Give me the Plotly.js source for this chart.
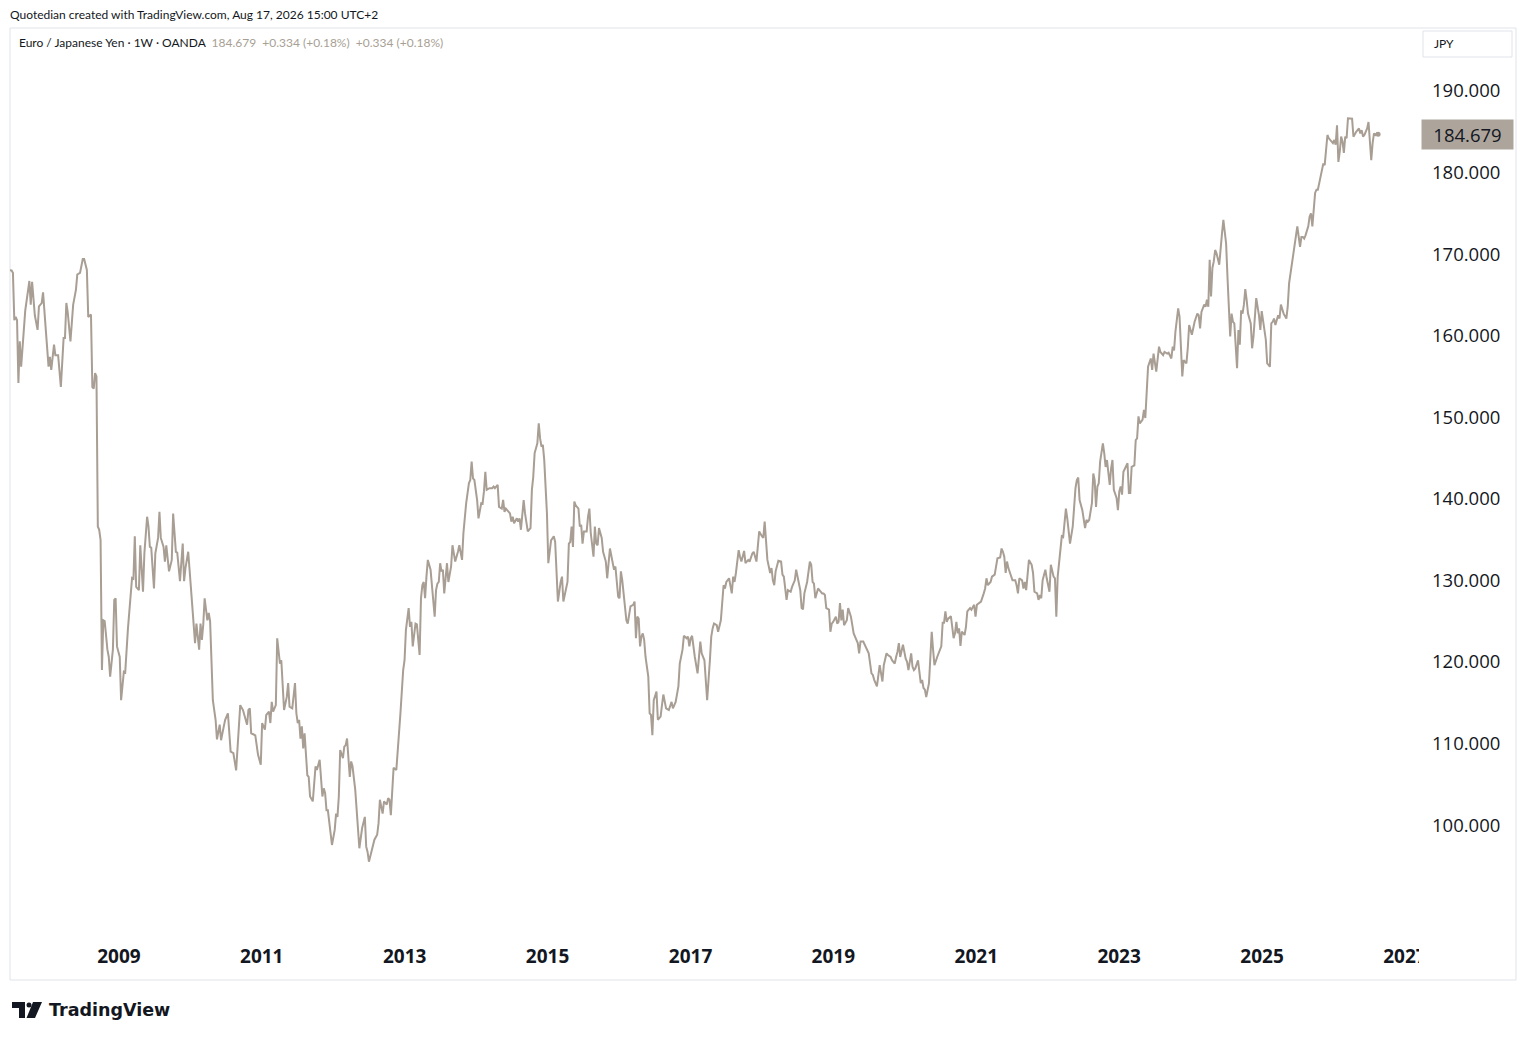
<!DOCTYPE html>
<html>
<head>
<meta charset="utf-8">
<script src="https://cdn.plot.ly/plotly-3.0.1.min.js"></script>
<style>
html,body{margin:0;padding:0;background:#ffffff;}
#chart{width:1526px;height:1040px;}
</style>
</head>
<body>
<div id="chart"></div>
<script>
// ---------------- DATA ----------------
// EUR/JPY weekly closes (OANDA).
// weekIndex = number of weeks after the first weekly bar (week of 2007-06-18).
const firstBarUTC = Date.UTC(2007, 5, 18);

const weekIndex = [
  0,2,3,4,5,6,7,8,9,12, 15,16,17,19,21,22,24,25,27,29,
  30,31,33,34,36,38,40,41,42,43, 45,47,49,50,52,54,55,57,58,60,
  61,62,63,64,65,66,67,68,69,70, 72,73,74,76,77,78,79,81,82,84,
  85,87,90,91,92,93,95,96,98,99, 101,102,103,104,106,107,109,110,111,113,
  114,115,117,119,120,122,123,125,127,128, 129,131,132,134,136,137,139,140,141,142,
  143,145,146,147,149,151,152,
  154,155,157,158,160,162,164,166,169,171, 174,175,176,177,180,182,184,185,187,188,
  190,191,192,193,195,196,198,199,201,203, 204,205,207,209,210,211,212,213,214,215,
  216,218,219,220,222,224,225,227,229,230, 231,232,233,235,236,238,239,240,241,242,
  244,245,246,247,249,250,251,253,255,256, 258,260,261,262,263,265,266,267,269,270,
  271,273,274,276,277,278,279,281,283,285, 286,288,289,290,292,293,294,295,297,298,
  299,300,301,302,303,304,305,306,308,309, 311,312,313,314,315,316,317,318,320,321,
  323,324,326,328,329,331,332,334,336,337, 338,339,340,342,343,345,346,347,348,349,
  351,353,354,355,357,358,360,361,362,363, 364,366,367,368,369,371,372,373,374,376,
  377,379,381,382,383,384,386,387,388,389, 390,391,393,394,396,398,399,400,401,403,
  404,405,407,408,409,410,411,412,413,414, 416,417,418,419,420,422,423,424,425,427,
  428,429,430,431,433,434,436,437,439,440, 442,443,444,445,446,447,448,450,451,452,
  453,454,456,457,458,459,460,461,462,463, 464,465,467,468,469,470,471,473,474,476,
  477,478,480,482,484,485,487,489,490,492,
  493,495,496,497,498,499,501,502,503,505, 506,508,509,510,512,513,514,515,517,518,
  520,521,522,523,524,526,528,529,530,531, 533,534,535,537,538,540,541,543,544,546,
  547,548,550,551,552,553,554,556,557,558, 559,560,562,564,565,566,568,569,571,572,
  574,575,577,578,579,580,581,583,585,586, 587,588,589,591,592,594,595,596,597,599,
  600,601,602,604,605,606,607,608,609,610, 612,613,615,616,617,619,620,621,622,624,
  625,627,628,630,631,632,634,636,637,638, 639,641,642,644,645,647,648,649,650,651,
  653,654,655,656,657,659,660,661,662,664, 665,666,667,668,669,670,672,673,674,675,
  676,678,679,681,682,683,684,685,686,688,
  690,691,692,693,694,695,696,698,699,700, 702,703,705,706,707,709,710,712,713,714,
  715,717,718,720,721,722,724,725,726,727, 728,729,730,732,733,735,736,737,738,740,
  741,742,743,745,747,748,749,751,752,753, 754,755,757,758,759,760,761,763,764,765,
  766,768,769,770,771,772,773,774,775,777, 778,779,780,781,782,783,784,786,787,788,
  789,791,792,793,794,795,796,797,799,800, 801,802,804,805,806,807,808,809,810,811,
  812,813,814,816,817,818,819,820,822,823, 824,825,826,828,829,830,831,832,834,835,
  836,838,840,841,843,844,846,847,849,850, 851,852,854,855,856,857,858,860,861,862,
  864,865,866,868,869,870,871,873,874,875, 876,877,878,879,880,881,882,884,885,886,
  887,888,889,890,891,892,893,894,895,896, 897,898,899,900,901,902,903,904,905,907,
  908,909,910,911,913,914,915,916,918,919, 920,921,922,923,924,925,927,928,929,930,
  931,933,934,935,937,939,940,941,943,944, 945,946,947,949,950,951,952,953,954,955,
  956,958,959,960,961,962,963,964,966,967, 968,969,970,971,972,973,974,975,976,977,
  978,980,981,982,983,984,986,987,988,989, 990,992,993,994,995,996,997,998,999,1000
];

const weeklyClose = [
  168.05,168.0,167.7,161.9,162.3,161.9,154.2,159.3,156.2,163.1, 166.7,163.8,166.6,162.5,160.7,163.6,164.0,165.3,160.7,156.2,
  157.4,155.8,158.9,157.6,157.6,153.7,159.7,159.7,164.0,162.9, 159.3,163.8,165.6,167.5,167.7,169.4,169.4,168.05,162.3,162.6,
  153.7,153.5,155.4,155.0,136.6,136.2,134.95,119.0,125.1,125.0, 121.5,120.6,118.2,121.5,127.6,127.8,121.9,120.6,115.3,118.8,
  118.7,124.1,130.3,130.2,135.4,129.2,128.8,134.3,128.6,133.3, 137.8,136.6,134.1,134.0,129.0,133.3,135.2,138.4,135.2,134.1,
  132.3,134.3,131.1,132.5,138.2,133.5,133.4,129.9,134.5,129.9, 131.5,133.5,131.3,126.4,122.3,124.7,121.5,124.7,122.7,124.6,
  127.8,125.1,126.0,125.0,115.3,112.9,110.5,
  112.3,110.4,112.1,112.9,113.7,109.0,108.8,106.7,114.7,114.1, 112.3,114.1,114.3,111.25,111.0,108.6,107.4,112.5,111.7,113.5,
  113.9,112.5,115.1,113.9,114.7,122.9,119.8,120.2,114.1,115.7, 117.4,114.5,114.3,117.4,113.7,112.5,112.9,110.6,112.1,109.4,
  111.25,106.1,105.9,103.5,102.9,107.2,106.75,108.0,103.5,104.5, 103.9,101.8,101.8,99.4,97.55,99.4,101.4,101.0,103.5,109.2,
  108.2,109.6,109.8,110.6,105.9,107.8,107.2,104.3,100.2,97.15, 99.6,101.0,97.35,96.7,95.5,96.7,97.35,98.2,98.8,100.2,
  103.1,101.4,102.9,102.5,103.3,103.1,101.2,107.0,106.75,110.8, 113.7,119.0,120.2,123.9,126.6,124.3,124.9,121.9,124.7,124.6,
  122.3,120.85,127.8,129.4,129.8,127.8,130.45,132.5,131.3,129.4, 125.55,128.8,129.6,129.8,132.1,131.1,131.3,128.4,132.1,129.8,
  131.7,134.3,132.3,133.5,134.3,132.5,135.8,139.45,141.9,142.3, 144.55,142.5,142.3,139.85,137.6,139.45,139.4,140.9,143.3,141.1,
  141.3,141.3,141.5,141.3,141.7,139.0,138.8,139.85,138.4,138.8, 138.6,138.2,137.2,137.8,137.0,137.6,137.2,137.6,136.2,139.85,
  138.2,136.0,136.4,141.1,142.7,145.6,146.8,149.25,147.4,146.4, 146.6,144.8,138.2,132.1,134.9,135.4,134.7,130.9,127.4,129.8,
  130.45,127.4,129.2,129.8,134.5,134.7,136.6,134.1,139.65,139.2, 138.8,136.6,136.8,134.5,136.0,136.0,137.8,138.8,135.8,132.9,
  136.6,134.5,134.3,136.4,135.2,133.5,132.3,130.25,133.9,132.9, 131.3,131.7,130.0,128.0,127.8,131.1,130.0,126.4,125.1,124.7,
  126.0,126.8,127.0,127.4,122.9,125.55,125.3,121.9,123.1,123.5, 122.7,120.6,118.2,113.7,113.5,111.0,115.3,116.35,112.9,113.3,
  114.7,116.0,114.3,114.1,115.1,114.3,115.1,117.0,119.8,121.5,
  123.2,122.9,123.1,121.9,122.9,123.2,120.6,119.8,118.6,122.5, 121.05,120.2,117.8,115.3,120.2,123.1,124.1,124.7,124.5,123.7,
  125.1,127.2,129.4,129.0,129.8,130.25,128.4,130.45,129.8,130.9, 133.7,132.9,132.3,133.6,132.1,132.5,132.3,133.3,133.5,132.3,
  134.7,136.0,135.4,135.2,137.2,134.1,132.5,130.9,131.5,130.0, 129.4,131.1,132.4,132.3,130.7,130.45,127.6,128.8,128.6,129.2,
  130.0,131.3,129.6,128.8,126.6,126.45,128.4,129.8,132.3,131.9, 129.8,129.6,127.8,129.0,128.8,128.4,128.4,128.2,126.6,126.4,
  123.7,124.7,124.9,125.55,124.7,124.9,127.2,125.1,126.4,124.5, 125.1,126.6,125.55,124.5,123.5,122.7,122.3,121.05,122.5,122.5,
  122.1,121.5,121.05,118.6,118.4,117.8,117.0,119.6,118.6,117.6, 119.6,121.05,120.85,120.6,120.2,119.8,120.6,121.25,122.3,120.6,
  122.1,121.05,120.4,120.0,119.0,121.05,119.4,119.0,119.2,120.2, 118.6,117.4,117.8,116.8,116.6,115.7,117.4,121.05,123.7,121.5,
  119.6,120.6,121.05,121.9,124.8,124.8,126.2,124.9,125.3,125.6,
  122.9,123.5,124.9,123.5,124.1,121.95,123.7,123.3,124.3,126.2, 126.6,126.4,127.0,125.55,127.0,127.2,127.4,128.4,129.0,130.25,
  129.4,129.8,130.45,130.7,131.7,132.7,132.8,133.9,133.5,132.9, 130.9,132.3,131.5,130.45,130.0,130.0,129.4,128.4,130.25,130.0,
  129.0,129.8,128.8,132.5,131.9,130.9,128.6,128.4,127.6,128.2, 127.8,130.0,131.3,130.25,129.2,128.6,131.9,130.45,130.25,125.55,
  130.45,133.7,135.4,135.3,137.6,138.8,137.6,136.0,134.5,136.6, 139.45,141.3,142.3,142.6,139.85,139.2,138.6,136.4,137.4,137.2,
  137.4,139.45,143.1,142.3,139.0,141.5,141.9,144.55,146.8,145.6, 143.9,144.75,141.7,143.7,144.75,141.1,140.5,140.1,138.6,140.9,
  141.5,140.5,143.3,143.9,144.35,140.7,140.7,143.9,144.1,147.2, 147.4,150.1,149.25,149.7,150.9,149.9,153.75,156.2,157.2,155.8,
  157.8,155.6,158.65,158.0,157.6,158.0,157.8,157.9,157.2,158.65, 158.2,160.5,163.35,162.3,158.65,155.0,157.0,156.6,158.45,161.3,
  160.1,161.1,161.7,162.7,162.5,160.9,162.9,163.8,163.55,164.4, 163.55,169.3,164.8,168.3,169.1,170.5,170.1,168.7,171.1,172.55,
  174.2,172.55,171.3,167.2,163.1,159.9,162.7,161.7,161.5,157.8, 156.0,160.7,158.9,163.1,162.7,163.8,165.7,164.4,162.7,161.5,
  158.45,159.9,162.1,164.6,162.5,160.7,163.0,161.9,159.5,156.6, 156.4,156.2,161.5,161.7,162.1,161.3,162.5,162.1,163.8,163.35,
  162.7,162.1,163.55,166.4,168.9,171.3,172.75,173.4,170.9,172.1, 172.1,171.9,172.3,173.4,174.6,175.0,173.4,175.4,177.5,177.9,
  177.9,179.5,180.3,181.1,180.9,183.2,184.6,184.2,183.8,183.6, 184.0,183.4,185.8,181.3,182.55,184.4,183.8,182.4,184.4,184.2,
  186.65,186.65,186.6,184.4,184.8,185.0,185.4,184.8,185.2,184.4, 184.6,185.4,186.2,184.0,181.5,183.6,184.8,184.6,184.8,184.679
];

const yTickValues = [100,110,120,130,140,150,160,170,180,190];
const xTickYears  = ['2009','2011','2013','2015','2017','2019','2021','2023','2025','2027'];
const lastPrice = 184.679;
const changeText = '+0.334 (+0.18%)';

// --------------- GEOMETRY HELPERS (layout only) ---------------
const W = 1526, H = 1040, ML = 10, MR = 108, MT = 28, MB = 103;
const PW = W - ML - MR, PH = H - MT - MB;
const px = x => (x - ML) / PW;
const py = y => (H - MB - y) / PH;

function weekToDate(w) {
  return new Date(firstBarUTC + w * 7 * 86400000).toISOString().slice(0, 10);
}

const dates = weekIndex.map(weekToDate);
const lineColor = '#a89e94';
const dark = '#131722';
const smallFont = 'Lato, "Open Sans", sans-serif';
const numFont = '"Open Sans", sans-serif';

const traces = [
  {
    type: 'scatter', mode: 'lines',
    x: dates, y: weeklyClose,
    line: {color: lineColor, width: 2},
    hoverinfo: 'skip', showlegend: false
  },
  {
    type: 'scatter', mode: 'markers',
    x: [dates[dates.length - 1]], y: [weeklyClose[weeklyClose.length - 1]],
    marker: {color: lineColor, size: 5},
    hoverinfo: 'skip', showlegend: false
  }
];

const layout = {
  width: W, height: H,
  margin: {l: ML, r: MR, t: MT, b: MB, pad: 0},
  paper_bgcolor: '#ffffff', plot_bgcolor: '#ffffff',
  showlegend: false,
  xaxis: {
    type: 'date',
    range: ['2007-06-24', '2027-03-09'],
    tickvals: xTickYears.map(y => y + '-01-01'),
    ticktext: xTickYears,
    ticks: '', showgrid: false, zeroline: false, showline: false,
    ticklabelstandoff: 6,
    tickfont: {family: numFont, size: 19, color: dark, weight: 700}
  },
  yaxis: {
    side: 'right',
    range: [86.27, 197.72],
    tickvals: yTickValues,
    tickformat: '.3f',
    ticks: '', showgrid: false, zeroline: false, showline: false,
    ticklabelstandoff: 13,
    tickfont: {family: numFont, size: 18.5, color: dark}
  },
  shapes: [
    // chart frame
    {type: 'rect', xref: 'paper', yref: 'paper', x0: px(10), x1: px(1516), y0: py(980), y1: py(28),
     line: {color: '#e0e3eb', width: 1}, fillcolor: 'rgba(0,0,0,0)', layer: 'below'},
    // price-scale area hides the clipped last year label
    {type: 'rect', xref: 'paper', yref: 'paper', x0: px(1419), x1: px(1515), y0: py(977), y1: py(938),
     line: {width: 0}, fillcolor: '#ffffff', layer: 'above'},
    // JPY box
    {type: 'rect', xref: 'paper', yref: 'paper', x0: px(1423), x1: px(1512), y0: py(57), y1: py(31),
     line: {color: '#e0e3eb', width: 1}, fillcolor: '#ffffff', layer: 'above'},
    // TradingView logo mark
    {type: 'rect', xref: 'paper', yref: 'paper', x0: px(12), x1: px(25), y0: py(1008), y1: py(1002),
     line: {width: 0}, fillcolor: dark},
    {type: 'rect', xref: 'paper', yref: 'paper', x0: px(19), x1: px(25), y0: py(1018), y1: py(1002),
     line: {width: 0}, fillcolor: dark},
    {type: 'circle', xref: 'paper', yref: 'paper', x0: px(26.5), x1: px(31.5), y0: py(1007.5), y1: py(1002.5),
     line: {width: 0}, fillcolor: dark},
    {type: 'path', xref: 'paper', yref: 'paper',
     path: 'M ' + px(33) + ' ' + py(1002) + ' L ' + px(42) + ' ' + py(1002) + ' L ' + px(35) + ' ' + py(1018) +
           ' L ' + px(26.5) + ' ' + py(1018) + ' Z',
     line: {width: 0}, fillcolor: dark}
  ],
  annotations: [
    {xref: 'paper', yref: 'paper', x: px(8), y: py(14), xanchor: 'left', yanchor: 'middle', showarrow: false,
     text: 'Quotedian created with TradingView.com, Aug 17, 2026 15:00 UTC+2',
     font: {family: smallFont, size: 12, color: dark}},
    {xref: 'paper', yref: 'paper', x: px(17), y: py(42), xanchor: 'left', yanchor: 'middle', showarrow: false,
     text: 'Euro / Japanese Yen · 1W · OANDA\u00a0\u00a0<span style="color:#a89f94">' + lastPrice.toFixed(3) +
           '\u00a0\u00a0' + changeText + '\u00a0\u00a0' + changeText + '</span>',
     font: {family: smallFont, size: 12, color: dark}},
    {xref: 'paper', yref: 'paper', x: px(1432), y: py(44), xanchor: 'left', yanchor: 'middle', showarrow: false,
     text: 'JPY', font: {family: smallFont, size: 12, color: dark}},
    {xref: 'paper', yref: 'y', x: px(1421), y: lastPrice, xanchor: 'left', yanchor: 'middle', showarrow: false,
     text: lastPrice.toFixed(3), width: 87, align: 'center', borderpad: 2, bgcolor: '#ada59b',
     font: {family: numFont, size: 18.5, color: dark}},
    {xref: 'paper', yref: 'paper', x: px(47), y: py(1010), xanchor: 'left', yanchor: 'middle', showarrow: false,
     text: '<b>TradingView</b>', font: {family: '"DejaVu Sans", sans-serif', size: 17.5, color: dark}}
  ]
};

Plotly.newPlot('chart', traces, layout, {displayModeBar: false, staticPlot: true});
</script>
</body>
</html>
